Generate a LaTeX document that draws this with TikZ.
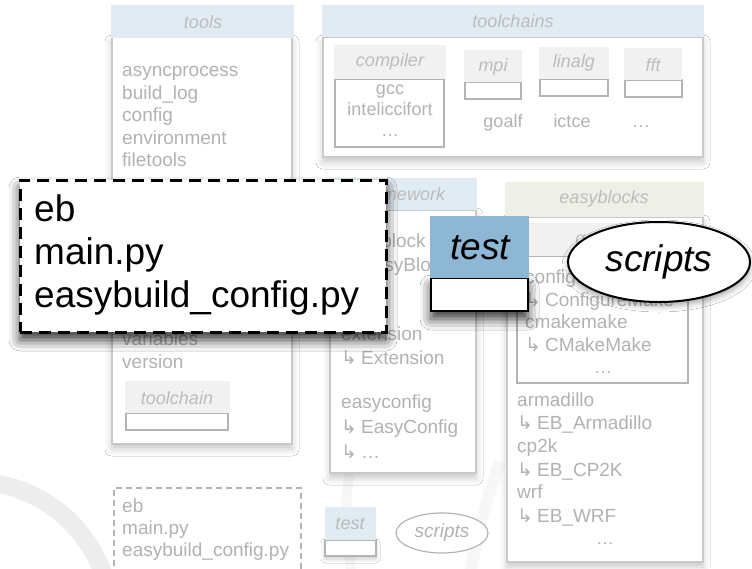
\documentclass[tikz,border=0pt]{standalone}
\usepackage{fontspec}
\setmainfont{Liberation Sans}
\newfontfamily\arrowfont{DejaVu Sans}
\usetikzlibrary{fit,shapes.geometric,shadows.blur}

\definecolor{hdrblue}{HTML}{E1EBF2}
\definecolor{hdrgreen}{HTML}{EEF0E7}
\definecolor{hdrgray}{HTML}{F1F1F1}
\definecolor{boxline}{HTML}{C9C9C9}
\definecolor{subline}{HTML}{B4B4B4}
\definecolor{itemgray}{HTML}{B2B2B2}
\definecolor{titlegray}{HTML}{BCBCBC}
\definecolor{testblue}{HTML}{8DB7D4}
\definecolor{wmgray}{HTML}{EDEDED}

% hooked arrow used in front of class names
\newcommand{\hookarr}{{\arrowfont\fontsize{19}{19}\selectfont ↳}\hspace{4pt}}

\begin{document}
\begin{tikzpicture}[x=1pt,y=-1pt,
  boxbody/.style={draw=boxline, line width=1.2pt, fill=white, inner sep=0pt},
  subbody/.style={draw=subline, line width=1.2pt, fill=white, inner sep=0pt},
  hdrbox/.style={fill=#1, draw=none, inner sep=0pt},
  softshadow/.style={blur shadow={shadow xshift=0pt, shadow yshift=-5pt,
      shadow blur radius=7pt, shadow opacity=22}},
  darkshadow/.style={blur shadow={shadow xshift=0pt, shadow yshift=-8pt,
      shadow blur radius=11pt, shadow opacity=80}},
  item/.style={anchor=base west, inner sep=0pt, text=itemgray,
      font=\fontsize{19}{19}\selectfont},
  citem/.style={anchor=base, inner sep=0pt, text=itemgray,
      font=\fontsize{18}{18}\selectfont},
  title/.style={inner sep=0pt, text=titlegray,
      font=\fontsize{18}{18}\selectfont\itshape},
  bigtext/.style={anchor=base west, inner sep=0pt, text=black,
      font=\fontsize{37}{37}\selectfont},
]
\useasboundingbox (0,0) rectangle (752,568);
\fill[white] (0,0) rectangle (752,568);

% faint logo strokes in the background
\draw[wmgray, line width=18pt] (-12,482) .. controls (45,490) and (85,525) .. (104,575);
\draw[wmgray!45, line width=12pt] (470,575) .. controls (478,530) and (488,495) .. (500,462);
\draw[wmgray!45, line width=10pt] (352,575) .. controls (346,540) and (344,505) .. (350,470);

% ---------------- tools ----------------
\node[boxbody, softshadow, fit={(112,37) (292,444)}] (toolsbody) {};
\node[hdrbox=hdrblue, fit={(111,5) (294,38)}] (toolshdr) {};
\node[title] (toolstitle) at (203,22) {tools};
\foreach \t [count=\i from 0] in {asyncprocess, build\_log, config, environment, filetools}
  \node[item] (tool\i) at (122,76.5+22.5*\i) {\t};
\node[item] (toolvar) at (122,345) {variables};
\node[item] (toolver) at (122,368) {version};
\node[subbody, fit={(126,413) (228,430)}] (tcbody) {};
\node[hdrbox=hdrgray, fit={(125,381) (230,413)}] (tchdr) {};
\node[title] (tctitle) at (177,398) {toolchain};

% ---------------- toolchains ----------------
\node[boxbody, softshadow, fit={(323,37) (703,157)}] (chainsbody) {};
\node[hdrbox=hdrblue, fit={(322,5) (704,37)}] (chainshdr) {};
\node[title] (chainstitle) at (513,21) {toolchains};

\node[subbody, fit={(335,79) (444,147)}] (compbody) {};
\node[hdrbox=hdrgray, fit={(334,45) (446,79)}] (comphdr) {};
\node[title] (comptitle) at (390,62) {compiler};
\node[citem] (gcc) at (390,94) {gcc};
\node[citem] (intel) at (390,115) {inteliccifort};
\node[citem] (compdots) at (390,136) {\dots};

\node[subbody, fit={(465,82) (521,99)}] (mpibody) {};
\node[hdrbox=hdrgray, fit={(464,50) (522,82)}] (mpihdr) {};
\node[title] (mpititle) at (493,67) {mpi};

\node[subbody, fit={(540,79) (608,96)}] (linbody) {};
\node[hdrbox=hdrgray, fit={(539,47) (609,79)}] (linhdr) {};
\node[title] (lintitle) at (574,63) {linalg};

\node[subbody, fit={(625,80) (682,97)}] (fftbody) {};
\node[hdrbox=hdrgray, fit={(624,48) (682,80)}] (ffthdr) {};
\node[title] (ffttitle) at (653,65) {fft};

\node[citem] (goalf) at (503,127) {goalf};
\node[citem] (ictce) at (572,127) {ictce};
\node[citem] (chaindots) at (641,127) {\dots};

% ---------------- framework ----------------
\node[boxbody, softshadow, fit={(330,210) (476,473)}] (fwbody) {};
\node[hdrbox=hdrblue, fit={(329,178) (477,210)}] (fwhdr) {};
\node[title] (fwtitle) at (403,194) {framework};
\node[item] (fw1) at (341,247) {easyblock};
\node[item] (fw2) at (341,271) {\hookarr EasyBlock};
\node[item] (fw3) at (341,340) {extension};
\node[item] (fw4) at (341,364) {\hookarr Extension};
\node[item] (fw5) at (341,408) {easyconfig};
\node[item] (fw6) at (341,433) {\hookarr EasyConfig};
\node[item] (fw7) at (341,458) {\hookarr \dots};

% ---------------- easyblocks ----------------
\node[boxbody, softshadow, fit={(507,217) (703,562)}] (ebbody) {};
\node[hdrbox=hdrgreen, fit={(505,182) (704,217)}] (ebhdr) {};
\node[title] (ebtitle) at (604,199) {easyblocks};

\node[subbody, fit={(517,256) (688,383)}] (genbody) {};
\node[hdrbox=hdrgray, fit={(517,223) (693,256)}] (genhdr) {};
\node[title] (gentitle) at (605,240) {generic};
\node[item] (gen1) at (525,283) {configuremake};
\node[item] (gen2) at (525,306) {\hookarr ConfigureMake};
\node[item] (gen3) at (525,328) {cmakemake};
\node[item] (gen4) at (525,351) {\hookarr CMakeMake};
\node[citem] (gendots) at (603,373) {\dots};

\node[item] (eb1) at (517,406) {armadillo};
\node[item] (eb2) at (517,429) {\hookarr EB\_Armadillo};
\node[item] (eb3) at (517,452) {cp2k};
\node[item] (eb4) at (517,476) {\hookarr EB\_CP2K};
\node[item] (eb5) at (517,498) {wrf};
\node[item] (eb6) at (517,522) {\hookarr EB\_WRF};
\node[citem] (ebdots) at (605,544) {\dots};

% ---------------- small legend items at the bottom ----------------
\node[draw=subline, dash pattern=on 6pt off 4pt, line width=1.2pt, fill=white,
      inner sep=0pt, fit={(114,488) (301,572)}] (smallscripts) {};
\node[item] (s1) at (122,512) {eb};
\node[item] (s2) at (122,534) {main.py};
\node[item] (s3) at (122,556) {easybuild\_config.py};

\node[subbody, blur shadow={shadow xshift=0pt, shadow yshift=-3pt,
      shadow blur radius=4pt, shadow opacity=20}, fit={(325,540) (376,556)}] (stestbody) {};
\node[hdrbox=hdrblue, fit={(325,507) (376,540)}] (stesthdr) {};
\node[title, text=itemgray!90] (stesttitle) at (350,524) {test};

\node[ellipse, draw=subline, line width=1.2pt, fill=white, minimum width=92pt,
      minimum height=40pt, inner sep=0pt, text=itemgray,
      font=\fontsize{19}{19}\selectfont\itshape] (sscripts) at (442,533) {scripts};

% ---------------- highlighted scripts ----------------
\node[draw=black, line width=3pt, dash pattern=on 12pt off 7pt, fill=white,
      darkshadow, inner sep=0pt, fit={(20,180) (386,332)}] (bigscripts) {};
\node[bigtext] (b1) at (34,221) {eb};
\node[bigtext] (b2) at (34,264) {main.py};
\node[bigtext] (b3) at (34,307) {easybuild\_config.py};

\node[draw=black, line width=2.5pt, fill=white, darkshadow, inner sep=0pt,
      fit={(431,278) (528,311)}] (testbody) {};
\node[hdrbox=testblue, fit={(430,216) (529,278)}] (testhdr) {};
\node[anchor=base, inner sep=0pt, font=\fontsize{37}{37}\selectfont\itshape]
      (testtitle) at (480,259) {test};

\node[ellipse, draw=black, line width=2pt, fill=white, minimum width=182pt,
      minimum height=80pt, inner sep=0pt,
      blur shadow={shadow xshift=0pt, shadow yshift=-4pt, shadow blur radius=6pt,
      shadow opacity=35},
      font=\fontsize{37}{37}\selectfont\itshape] (bigscr) at (659,262) {scripts};
\end{tikzpicture}
\end{document}
